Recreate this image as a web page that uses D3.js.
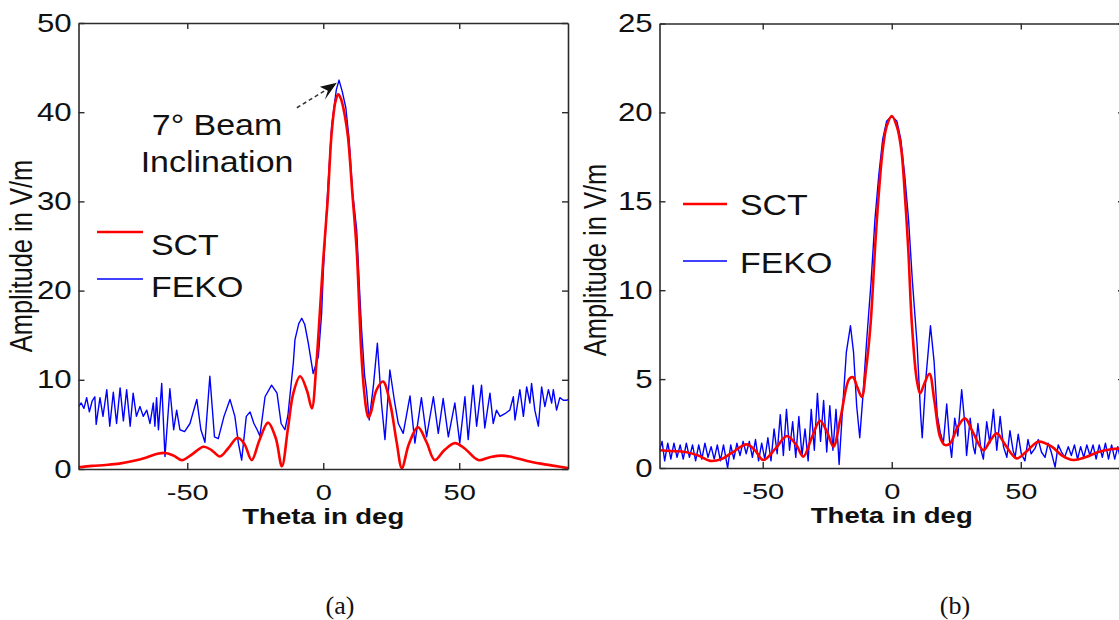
<!DOCTYPE html>
<html><head><meta charset="utf-8">
<script src="https://cdn.jsdelivr.net/npm/d3@7"></script>
<style>
body{margin:0;background:#fff;}
svg{display:block;font-family:Arial,"Liberation Sans",sans-serif;}
</style>
</head><body>
<svg id="chart" width="1119" height="620"></svg>
<script>
// ---------- DATA ----------
const seriesNames = ["SCT", "FEKO"];
const xTicks = [-50, 0, 50];
const yTicksA = [0, 10, 20, 30, 40, 50];
const yTicksB = [0, 5, 10, 15, 20, 25];

// Panel (a): SCT
const thetaA_SCT = [-90,-85,-80,-75,-70,-65,-61,-58,-55,-52,-48,-44,-41,-38,-35,-31.5,-29,-26.3,-23.5,-20.3,-17.5,-15.2,-13,-11,-8.5,-6,-4.2,-2.5,-1.2,0,1.6,3.1,4.5,5.5,6.5,8,9.1,10.8,11.6,12.4,13.2,14,15,16,16.6,17.5,19.5,22,24.5,27,28.9,31.5,34.8,38,41,44.5,48.4,52,57,61,65.6,70,75,80,85,90];
const ampA_SCT   = [0.2,0.35,0.45,0.6,0.9,1.3,1.7,1.8,1.5,1.0,1.7,2.5,2.1,1.4,2.3,3.5,2.8,1.0,3.2,5.2,3.5,0.3,4.5,8.5,10.4,8.8,6.8,11.9,17.8,23.5,30,37.7,41.2,42,41.5,39.5,37.2,30.5,27.5,24,18.5,13,8.8,6.4,5.8,6.3,8.8,9.8,7.5,3.0,0.1,2.8,4.7,3.0,1.0,2.1,2.9,2.3,1.0,1.3,1.5,1.3,0.9,0.6,0.35,0.1];

// Panel (a): FEKO
const thetaA_FEKO = [-90,-89,-88,-87,-86,-85,-84,-83.5,-82.1,-81,-79.6,-78.5,-77.2,-76,-74.7,-73.5,-72.3,-71,-69.9,-68.7,-67.4,-66.2,-64.9,-63.7,-62.5,-61.9,-61.3,-60.6,-59.4,-58.2,-56.4,-55,-53.9,-52.7,-51,-49,-46.5,-45,-43.5,-41.7,-40,-38.6,-36.5,-34.3,-32.5,-31.2,-30,-28.3,-26.9,-25.5,-24.3,-23.3,-21.4,-19,-17,-15.5,-14.1,-13,-11,-10.4,-9,-7.9,-6.8,-5.5,-3.7,-1.8,-0.6,0,1.6,3.1,4.8,5.8,7,8.3,9.5,10.8,12.3,13.2,14.1,15.2,15.9,16.9,18.4,19.9,21.4,22.7,24.5,26.3,27.6,29.4,31.9,33.7,36.1,38,40.5,42.3,44.1,46,48.4,50.2,52.1,53.3,55.1,56.4,58.2,59.4,61.3,62.5,63.7,65,66.8,68.6,69.9,70.5,72.3,73.6,74.8,76,76.6,77.8,79.1,80.3,81.5,82.8,84,84.6,85.8,87,88.3,89.5,90];
const ampA_FEKO   = [7.0,7.4,6.8,8.0,6.4,7.6,8.1,5.0,8.0,5.9,8.9,4.8,8.6,5.1,9.1,5.4,8.9,4.8,8.5,5.9,7.0,5.9,6.6,5.1,7.4,4.8,8.0,4.4,9.6,1.4,9.0,4.4,6.6,4.4,4.2,5.1,7.8,4.4,3.0,10.4,3.6,3.4,5.9,7.8,5.9,2.9,1.0,5.9,6.4,5.1,4.4,3.7,8.1,9.4,8.5,5.1,4.4,6.0,11.9,14.5,16.3,16.9,16.2,14.1,10.7,12.6,17.4,22,31,38.5,42.5,43.6,42.3,40.5,37,31,26.8,21,15.6,10.5,8.9,5.5,9.2,14.1,7.4,3.3,11.1,7.4,5.1,4.0,8.2,2.9,8.0,3.6,8.1,4.0,7.9,3.6,7.4,2.9,8.1,3.3,9.4,4.8,9.4,4.6,8.5,5.1,6.6,5.9,6.2,6.6,8.1,5.5,8.9,5.9,9.2,7.4,9.6,6.6,4.8,9.2,7.0,8.9,7.4,8.9,6.6,8.0,7.7,7.7,7.8];

// Panel (b): SCT
const thetaB_SCT = [-90,-85,-80,-75,-70.4,-66,-62,-56.2,-53,-49.8,-45,-40.7,-37,-34.3,-31,-27.8,-25,-22.6,-20,-16.5,-15,-13.5,-11.6,-10,-8.2,-6.5,-5.2,-3.5,-2,0,2,3.7,5.2,6.4,7.8,9.7,11,12.5,14.6,16.5,18.7,20.5,22.6,25.5,28.4,31.5,35.5,38,40.7,44,48.4,52,56.8,62,66,70.4,75,80,85,90];
const ampB_SCT   = [1.0,0.95,0.9,0.7,0.4,0.5,0.85,1.33,1.0,0.45,1.1,1.8,1.3,0.64,1.7,2.66,2.0,1.2,2.7,5.0,5.1,4.6,4.0,5.5,8.1,12.3,15.1,17.9,19.2,19.8,19.2,17.9,15.1,12.3,8.1,4.95,4.2,4.7,5.3,3.8,1.76,1.3,1.38,2.3,2.79,2.0,1.0,1.5,1.95,1.3,0.54,0.9,1.48,1.2,0.7,0.45,0.6,0.9,1.05,1.1];

// Panel (b): FEKO
const thetaB_FEKO = [-90,-89,-88,-86.8,-85.6,-84.4,-83.2,-82,-80.8,-79.6,-78.4,-77.2,-76,-74.8,-73.6,-72.4,-71.2,-70,-68.8,-67.6,-66.4,-65.2,-63.6,-62.4,-61.2,-60,-58.8,-57.6,-56.4,-55.2,-54,-52.8,-51.6,-50.4,-49.2,-48,-46.8,-45.6,-44.4,-43.2,-42,-40.8,-39.6,-38.4,-37.2,-36,-34.8,-33.6,-32.4,-31.2,-30,-28.8,-27.6,-26.4,-25.2,-24,-22.8,-21.6,-20.4,-19.2,-17.6,-16,-14.8,-13.6,-12.4,-11.2,-9.8,-8,-6.5,-5,-3.5,-2,0,2,3.5,5,6.5,8,9.8,11.2,11.8,13.2,15,16.4,17.6,18.8,20,21.3,22.4,23.2,24.4,25.6,27.1,28.3,29,30.4,31.6,32.3,33.4,34.6,35.5,36.8,38,39.4,40.7,42,43.3,44.6,45.8,47,47.8,49,50.2,51.6,52.8,54,55.5,56.8,58,59.4,60.6,61.8,63.3,64.5,65.8,67,68.4,69.6,70.8,72,73.2,74.4,75.6,76.8,78,79.2,80.4,81.6,82.8,84,85.2,86.4,87.6,88.8,90];
const ampB_FEKO   = [1.0,1.5,0.4,1.4,0.5,1.4,0.6,1.3,0.5,1.4,0.6,1.3,0.4,1.3,0.5,1.4,0.6,1.2,0.5,1.3,0.4,1.3,0.0,1.3,0.5,1.4,0.7,1.5,0.8,1.5,0.6,1.6,0.4,1.4,0.5,1.7,0.4,2.2,0.8,3.0,0.7,3.3,1.0,2.6,0.6,2.9,0.7,2.2,0.4,3.3,1.0,4.2,1.5,3.8,0.9,3.5,1.0,3.3,0.2,3.0,6.5,8.0,6.5,3.5,1.7,4.0,7.0,10.5,14.0,16.5,18.5,19.5,19.8,19.5,18.5,16.5,14.0,10.5,7.0,3.0,1.7,5.0,8.0,6.0,3.0,2.0,1.4,3.6,1.5,0.6,2.8,1.8,4.4,2.5,0.7,2.8,1.2,0.8,2.5,1.0,0.5,2.6,1.4,3.3,1.0,2.9,1.2,0.6,2.1,1.0,0.6,1.9,0.8,0.4,1.6,0.8,1.1,1.6,0.9,0.6,1.4,0.9,0.05,1.3,0.9,0.6,1.2,0.7,1.3,0.5,1.2,0.6,1.3,0.7,1.3,0.5,1.3,0.6,1.4,0.5,1.3,0.5,1.2,0.4,1.0];

// ---------- DRAW ----------
const svg = d3.select("#chart");
const SX = 1.25; // horizontal stretch of the original figure's text
const axisColor = "#2b2b2b";
const fmtTick = d => String(d); // plain hyphen minus, as in the original

function drawPanel(cfg) {
  const x = d3.scaleLinear().domain([-90, 90]).range([cfg.x0, cfg.x1]);
  const y = d3.scaleLinear().domain([0, cfg.ymax]).range([cfg.y0, cfg.y1]);
  const g = svg.append("g");

  const clipId = "clip" + cfg.id;
  svg.append("defs").append("clipPath").attr("id", clipId)
    .append("rect").attr("x", cfg.x0).attr("y", cfg.y1)
    .attr("width", cfg.x1 - cfg.x0).attr("height", cfg.y0 - cfg.y1);

  const plot = g.append("g").attr("clip-path", `url(#${clipId})`);
  const lineLin = d3.line().x(d => x(d[0])).y(d => y(d[1]));
  const lineSmooth = d3.line().x(d => x(d[0])).y(d => y(d[1])).curve(d3.curveCatmullRom.alpha(0.5));

  plot.append("path").datum(d3.zip(cfg.tF, cfg.aF))
    .attr("d", lineLin).attr("fill", "none")
    .attr("stroke", "#0000ff").attr("stroke-width", 1.4).attr("stroke-linejoin", "round");
  plot.append("path").datum(d3.zip(cfg.tS, cfg.aS))
    .attr("d", lineSmooth).attr("fill", "none")
    .attr("stroke", "#ff0000").attr("stroke-width", 2.6).attr("stroke-linejoin", "round");

  // axes (inward ticks, box)
  const styleAxis = sel => {
    sel.selectAll("path.domain").attr("stroke", axisColor).attr("stroke-width", 1.6);
    sel.selectAll(".tick line").attr("stroke", axisColor).attr("stroke-width", 1.4);
  };
  const bottom = g.append("g").attr("transform", `translate(0,${cfg.y0})`)
    .call(d3.axisBottom(x).tickValues(xTicks).tickFormat(fmtTick).tickSize(-6).tickSizeOuter(0).tickPadding(15))
    .call(styleAxis);
  bottom.selectAll("text").attr("fill", "#111").attr("font-size", 22)
    .attr("font-family", "Arial, 'Liberation Sans', sans-serif")
    .attr("transform", `scale(1.32,1)`);
  g.append("g").attr("transform", `translate(0,${cfg.y1})`)
    .call(d3.axisTop(x).tickValues(xTicks).tickSize(-6).tickSizeOuter(0).tickFormat(""))
    .call(styleAxis);
  const left = g.append("g").attr("transform", `translate(${cfg.x0},0)`)
    .call(d3.axisLeft(y).tickValues(cfg.yTicks).tickFormat(fmtTick).tickSize(-6).tickSizeOuter(0).tickPadding(5.5))
    .call(styleAxis);
  left.selectAll("text").attr("fill", "#111").attr("font-size", 25)
    .attr("font-family", "Arial, 'Liberation Sans', sans-serif")
    .attr("transform", `scale(${SX},1)`);
  g.append("g").attr("transform", `translate(${cfg.x1},0)`)
    .call(d3.axisRight(y).tickValues(cfg.yTicks).tickSize(-6).tickSizeOuter(0).tickFormat(""))
    .call(styleAxis);

  // x label
  g.append("text")
    .attr("transform", `translate(${(cfg.x0 + cfg.x1) / 2},${cfg.y0 + 55}) scale(${SX},1)`)
    .attr("text-anchor", "middle").attr("font-size", 22).attr("font-weight", "bold")
    .attr("fill", "#111").text("Theta in deg");
  // y label
  g.append("text")
    .attr("transform", `translate(${cfg.ylabX},${cfg.ylabY}) scale(${SX},1) rotate(-90)`)
    .attr("text-anchor", "middle").attr("font-size", 25.5)
    .attr("fill", "#111").text("Amplitude in V/m");

  // legend
  const L = cfg.legend;
  const leg = g.append("g");
  const colors = ["#ff0000", "#0000ff"];
  const widths = [2.6, 1.6];
  seriesNames.forEach((name, i) => {
    leg.append("line").attr("x1", L.lx0).attr("x2", L.lx1)
      .attr("y1", L.ly[i]).attr("y2", L.ly[i])
      .attr("stroke", colors[i]).attr("stroke-width", widths[i]);
    leg.append("text")
      .attr("transform", `translate(${L.tx},${L.ty[i]}) scale(1.17,1)`)
      .attr("font-size", 29).attr("fill", "#111").text(name);
  });
  return { x, y, g };
}

const A = drawPanel({
  id: "A", x0: 78.5, x1: 568, y0: 469, y1: 23, ymax: 50, yTicks: yTicksA,
  tS: thetaA_SCT, aS: ampA_SCT, tF: thetaA_FEKO, aF: ampA_FEKO,
  ylabX: 32, ylabY: 256,
  legend: { lx0: 97, lx1: 143, ly: [232, 279], tx: 151, ty: [255, 297] }
});
const B = drawPanel({
  id: "B", x0: 659.5, x1: 1124, y0: 468, y1: 23.5, ymax: 25, yTicks: yTicksB,
  tS: thetaB_SCT, aS: ampB_SCT, tF: thetaB_FEKO, aF: ampB_FEKO,
  ylabX: 606, ylabY: 260,
  legend: { lx0: 683, lx1: 727, ly: [204, 261], tx: 740, ty: [215, 273] }
});

// annotation on panel (a)
const annStart = [-9.7, 40.5], annTip = [5, 43.3];
const tipX = A.x(annTip[0]), tipY = A.y(annTip[1]);
svg.append("line")
  .attr("x1", A.x(annStart[0])).attr("y1", A.y(annStart[1]))
  .attr("x2", tipX - 9).attr("y2", tipY + 6)
  .attr("stroke", "#333").attr("stroke-width", 1.5).attr("stroke-dasharray", "4,3");
svg.append("path")
  .attr("d", `M${tipX},${tipY} L${tipX - 17},${tipY + 4} L${tipX - 9},${tipY + 8} L${tipX - 12},${tipY + 17} Z`)
  .attr("fill", "#111");

const annLines = ["7° Beam", "Inclination"];
const annBase = [135, 172];
annLines.forEach((t, i) => {
  svg.append("text")
    .attr("transform", `translate(217,${annBase[i]}) scale(1.17,1)`)
    .attr("text-anchor", "middle").attr("font-size", 29).attr("fill", "#111").text(t);
});

// sub-captions
const captions = ["(a)", "(b)"];
const capX = [340, 955];
captions.forEach((c, i) => {
  svg.append("text").attr("x", capX[i]).attr("y", 614)
    .attr("text-anchor", "middle").attr("font-size", 26)
    .attr("font-family", "'Liberation Serif', 'Times New Roman', serif")
    .attr("fill", "#111").text(c);
});
</script>
</body></html>
